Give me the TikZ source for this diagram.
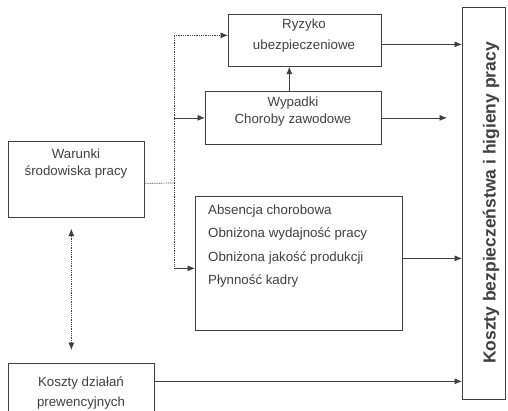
\documentclass[tikz,border=0pt]{standalone}
\usepackage{fontspec}
\setmainfont{Liberation Sans}
\usetikzlibrary{arrows.meta,positioning}
\definecolor{ink}{HTML}{404040}

\begin{document}
\begin{tikzpicture}[x=1pt,y=-1pt,
        box/.style={draw=ink,line width=0.7pt,anchor=north west,inner sep=0pt},
        txt/.style={text=ink,inner sep=0pt,align=center,font=\fontsize{13.3}{17}\selectfont},
        tip/.style={-{Latex[length=7.5pt,width=6pt]}},
        dots/.style={dash pattern=on 1pt off 0.8pt}]
        \useasboundingbox (0,0) rectangle (508,410);

        \node[box,minimum width=136pt,minimum height=76pt] (war) at (8,141) {};
        \node[box,minimum width=153pt,minimum height=52pt] (ryz) at (228,14) {};
        \node[box,minimum width=176pt,minimum height=53pt] (wyp) at (205,91) {};
        \node[box,minimum width=207pt,minimum height=134pt] (abs) at (195,196) {};
        \node[box,minimum width=146pt,minimum height=52pt] (kd) at (8,363) {};
        \node[box,minimum width=43pt,minimum height=392pt] (big) at (462,7) {};

        \node[txt] (wartxt) at (76,164) {Warunki\\środowiska pracy};
        \node[txt] (ryztxt) at (304,35.5) {Ryzyko\\[4pt]ubezpieczeniowe};
        \node[txt] (wyptxt) at (293,111.5) {Wypadki\\Choroby zawodowe};
        \node[txt,anchor=west,align=left,font=\fontsize{13.3}{23.3}\selectfont] (abstxt) at (208,246)
            {Absencja chorobowa\\Obniżona wydajność pracy\\Obniżona jakość produkcji\\Płynność kadry};
        \node[txt] (kdtxt) at (81,393) {Koszty działań\\[3pt]prewencyjnych};
        \node[txt,rotate=90,font=\bfseries\fontsize{17.5}{20}\selectfont] (bigtxt) at (491,203)
            {Koszty bezpieczeństwa i higieny pracy};

        \coordinate (j) at (174,183);
        \coordinate (absin) at ([yshift=-5pt]abs.west);
        \coordinate (wypend) at (447,119);
        \coordinate (pa) at ([xshift=-5pt,yshift=-11pt]war.south);
        \coordinate (pb) at ([yshift=13pt]pa |- kd.north);

        \draw[ink,line width=0.7pt,dots] ([yshift=-4pt]war.east) -- (j);
        \draw[ink,line width=0.7pt,dots,tip] (j) |- ([yshift=5pt]ryz.west);
        \draw[ink,line width=0.7pt,dots] (j) -- (j |- absin);
        \draw[ink,line width=0.7pt,tip] (j |- absin) -- (absin);
        \draw[ink,line width=0.7pt,tip] (j |- wyp.west) -- (wyp.west);

        \draw[ink,line width=0.7pt,tip] ([xshift=-4pt]wyp.north) -- ([xshift=-4pt]wyp.north |- ryz.south);

        \draw[ink,line width=0.7pt,tip] ([yshift=-4pt]ryz.east) -- ([yshift=-4pt]ryz.east -| big.west);
        \draw[ink,line width=0.7pt,tip] (wyp.east) -- (wyp.east -| wypend);
        \draw[ink,line width=0.7pt,tip] ([yshift=5pt]abs.east) -- ([yshift=5pt]abs.east -| big.west);
        \draw[ink,line width=0.7pt,tip] ([yshift=8pt]kd.east) -- ([yshift=8pt]kd.east -| big.west);

        \draw[ink,line width=0.7pt,dots,{Latex[length=7.5pt,width=6pt]}-{Latex[length=7.5pt,width=6pt]}] (pa) -- (pb);
    \end{tikzpicture}
\end{document}
